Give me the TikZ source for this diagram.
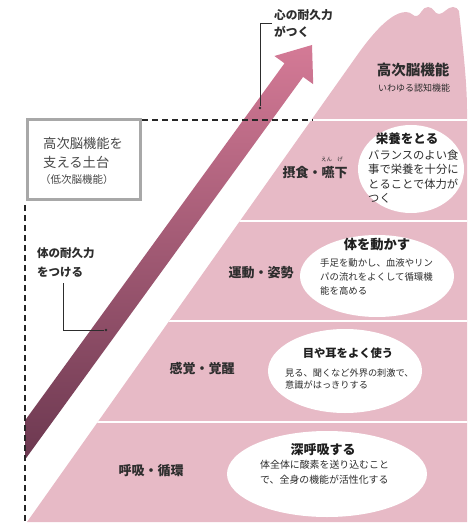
\documentclass[tikz,border=0pt]{standalone}
\usepackage{fontspec}
\setmainfont{Noto Sans CJK JP}
\usetikzlibrary{shapes.geometric}
\definecolor{mtpink}{RGB}{231,186,198}
\definecolor{arrdark}{RGB}{108,56,80}
\definecolor{arrlight}{RGB}{212,122,150}
\definecolor{txt}{RGB}{45,45,45}
\definecolor{boxgray}{RGB}{168,168,168}
\tikzset{
  lbl/.style={inner sep=0, text=txt, font=\bfseries\fontsize{13}{13}\selectfont},
  bodytxt/.style={inner sep=0, text=txt, align=left, anchor=west},
  ttl/.style={inner sep=0, text=black!88, font=\bfseries\fontsize{13}{13}\selectfont},
  bubble/.style={ellipse, fill=white, draw=none, inner sep=0},
  leader/.style={draw=txt, line width=0.6pt},
  dashln/.style={dash pattern=on 6pt off 4pt, line width=1.5pt, draw=black!85},
  sepline/.style={draw=white, line width=2pt},
  dotmark/.style={circle, fill=txt, inner sep=0, minimum size=2.8pt},
  boxtxt/.style={inner sep=0, text=black!72, anchor=west},
}
\begin{document}
\begin{tikzpicture}[x=1pt,y=-1pt]
\useasboundingbox (0,0) rectangle (474,529);
% mountain
\def\mountain{(27,522) -- (358,54) .. controls (378,26) and (394,12) .. (406,12)
  .. controls (412,12) and (413,17) .. (417,16) .. controls (421,15) and (422,7) .. (428,7)
  .. controls (434,7) and (434,14) .. (439,14) .. controls (444,14) and (447,7) .. (453,7)
  .. controls (456,7) and (458,9) .. (459,11) .. controls (462,40) and (467,80) .. (467,110)
  -- (467,522) -- cycle}
\fill[mtpink] \mountain;
\begin{scope}
  \clip \mountain;
  \foreach \yy in {120,220.5,321,422} {\draw[sepline] (0,\yy) -- (474,\yy);}
\end{scope}
% arrow
\shade[top color=arrlight, bottom color=arrdark]
  (25,420.5) -- (284.5,63.3) -- (274.4,56.0) -- (312,45) -- (313.2,84.2) -- (303.1,76.9) -- (25,459.6) -- cycle;
% box
\node[draw=boxgray, line width=3pt, fill=white, minimum width=113pt, minimum height=80pt, inner sep=0] (box) at (84,159.5) {};
\node[boxtxt, font=\fontsize{13.3}{13.3}\selectfont] (b1) at (43,143) {高次脳機能を};
\node[boxtxt, font=\fontsize{13.3}{13.3}\selectfont] (b2) at (43,162) {支える土台};
\node[boxtxt, font=\fontsize{10.5}{10.5}\selectfont] (b3) at (40,180) {（低次脳機能）};
% dashed lines
\coordinate (dh) at (313,120);
\coordinate (dv) at (25,522);
\draw[dashln] (box.east |- dh) -- (dh);
\draw[dashln] (box.south -| dv) ++(0,4) -- (dv);
% top title
\node[inner sep=0, text=txt, font=\bfseries\fontsize{14.5}{14.5}\selectfont] (top) at (413,70) {高次脳機能};
\node[inner sep=0, text=txt, font=\fontsize{9}{9}\selectfont] (topsub) at (414,88) {いわゆる認知機能};
% band 1
\node[lbl] (l1) at (315,173) {摂食・嚥下};
\node[inner sep=0, text=txt, font=\fontsize{5.5}{5.5}\selectfont] (r1) at (326.5,159) {えん};
\node[inner sep=0, text=txt, font=\fontsize{5.5}{5.5}\selectfont] (r2) at (340,159) {げ};
\node[bubble, minimum width=106pt, minimum height=88pt] (e1) at (411,169) {};
\node[ttl, font=\bfseries\fontsize{12.5}{12.5}\selectfont] (t1) at (407,139) {栄養をとる};
\node[bodytxt, font=\fontsize{11.3}{14.3}\selectfont] (d1) at (368,176.5) {バランスのよい食\\事で栄養を十分に\\とることで体力が\\つく};
% band 2
\node[lbl] (l2) at (261,273) {運動・姿勢};
\node[bubble, minimum width=154pt, minimum height=82pt] (e2) at (377,276) {};
\node[ttl, font=\bfseries\fontsize{13.3}{13.3}\selectfont] (t2) at (377,245) {体を動かす};
\node[bodytxt, font=\fontsize{9.4}{14}\selectfont] (d2) at (320,277) {手足を動かし、血液やリン\\パの流れをよくして循環機\\能を高める};
% band 3
\node[lbl] (l3) at (202,368) {感覚・覚醒};
\node[bubble, minimum width=154pt, minimum height=84pt] (e3) at (345,371) {};
\node[ttl, font=\bfseries\fontsize{11.3}{11.3}\selectfont] (t3) at (348,353) {目や耳をよく使う};
\node[bodytxt, font=\fontsize{9.2}{12.5}\selectfont] (d3) at (285,379) {見る、聞くなど外界の刺激で、\\意識がはっきりする};
% band 4
\node[lbl] (l4) at (151,471) {呼吸・循環};
\node[bubble, minimum width=200pt, minimum height=86pt] (e4) at (327,474) {};
\node[ttl, font=\bfseries\fontsize{13}{13}\selectfont] (t4) at (323,450) {深呼吸する};
\node[bodytxt, font=\fontsize{9.9}{15}\selectfont] (d4) at (260,472.5) {体全体に酸素を送り込むこと\\で、全身の機能が活性化する};
% annotations
\node[inner sep=0, text=txt, anchor=west, align=left, font=\bfseries\fontsize{11.7}{17}\selectfont] (a1) at (274,23.5) {心の耐久力\\がつく};
\node[dotmark] (p1) at (260,108) {};
\coordinate (k1) at (272,23);
\draw[leader] (k1) -| (p1);
\node[inner sep=0, text=txt, anchor=west, align=left, font=\bfseries\fontsize{11.5}{19}\selectfont] (a2) at (37,262.5) {体の耐久力\\をつける};
\node[dotmark] (p2) at (106,330) {};
\coordinate (k2) at (63,283);
\draw[leader] (k2) |- (p2);
\end{tikzpicture}
\end{document}
